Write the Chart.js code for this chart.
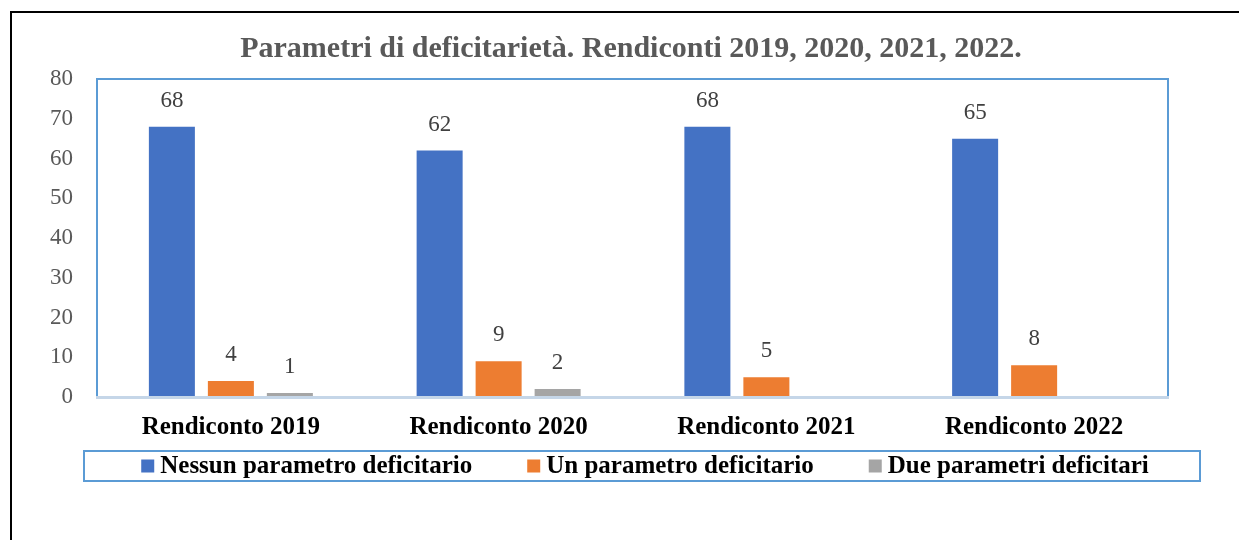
<!DOCTYPE html>
<html>
<head>
<meta charset="utf-8">
<script src="https://cdn.jsdelivr.net/npm/chart.js@4.4.1/dist/chart.umd.min.js"></script>
<style>
  html, body { margin: 0; padding: 0; background: #fff; }
  #wrap { width: 1239px; height: 540px; }
</style>
</head>
<body>
<div id="wrap"><canvas id="chart" width="1239" height="540"></canvas></div>
<script>
var titleText = "Parametri di deficitarietà. Rendiconti 2019, 2020, 2021, 2022.";
var categories = ["Rendiconto 2019", "Rendiconto 2020", "Rendiconto 2021", "Rendiconto 2022"];
var seriesNames = ["Nessun parametro deficitario", "Un parametro deficitario", "Due parametri deficitari"];
var nessun = [68, 62, 68, 65];
var unParam = [4, 9, 5, 8];
var dueParam = [1, 2, null, null];
var yTicks = [0, 10, 20, 30, 40, 50, 60, 70, 80];

var colors = ["#4472C4", "#ED7D31", "#A5A5A5"];
var serif = "'Liberation Serif', 'DejaVu Serif', serif";

// cornice esterna, titolo, riquadro area grafico
var framePlugin = {
    id: 'frame',
    beforeDraw: function (chart) {
        var ctx = chart.ctx;
        ctx.save();
        ctx.fillStyle = '#fff';
        ctx.fillRect(0, 0, chart.width, chart.height);
        ctx.strokeStyle = '#000';
        ctx.lineWidth = 2;
        ctx.beginPath();
        ctx.moveTo(11, 540);
        ctx.lineTo(11, 12);
        ctx.lineTo(1239, 12);
        ctx.stroke();

        ctx.fillStyle = '#595959';
        ctx.font = "bold 30px " + serif;
        ctx.textAlign = 'center';
        ctx.textBaseline = 'middle';
        ctx.fillText(titleText, 631, 49);
        ctx.restore();
    },
    afterDatasetsDraw: function (chart) {
        var ctx = chart.ctx;
        var a = chart.chartArea;
        ctx.save();
        ctx.strokeStyle = '#5B9BD5';
        ctx.lineWidth = 2;
        ctx.strokeRect(a.left, a.top, a.right - a.left, a.bottom - a.top);
        ctx.strokeStyle = '#C5D6E8';
        ctx.lineWidth = 3;
        ctx.beginPath();
        ctx.moveTo(a.left - 1, a.bottom + 0.5);
        ctx.lineTo(a.right + 1, a.bottom + 0.5);
        ctx.stroke();
        ctx.restore();
    }
};

// etichette dei valori sopra le barre
var valuesPlugin = {
    id: 'values',
    afterDatasetsDraw: function (chart) {
        var ctx = chart.ctx;
        ctx.save();
        ctx.fillStyle = '#404040';
        ctx.font = "23px " + serif;
        ctx.textAlign = 'center';
        ctx.textBaseline = 'middle';
        chart.data.datasets.forEach(function (ds, i) {
            var meta = chart.getDatasetMeta(i);
            meta.data.forEach(function (bar, j) {
                if (ds.data[j] === null) return;
                ctx.fillText(ds.data[j], bar.x, bar.y - 26);
            });
        });
        ctx.restore();
    }
};

// legenda in basso con riquadro
var legendPlugin = {
    id: 'boxLegend',
    afterDraw: function (chart) {
        var ctx = chart.ctx;
        ctx.save();
        ctx.strokeStyle = '#5B9BD5';
        ctx.lineWidth = 2;
        ctx.strokeRect(84, 451, 1116, 30);
        ctx.font = "bold 25px " + serif;
        ctx.textBaseline = 'middle';
        var box = 13, gapText = 6, gapItem = 55;
        var total = 0;
        chart.data.datasets.forEach(function (ds, i) {
            total += box + gapText + ctx.measureText(ds.label).width;
            if (i > 0) total += gapItem;
        });
        var x = 645 - total / 2;
        var y = 466;
        chart.data.datasets.forEach(function (ds) {
            ctx.fillStyle = ds.backgroundColor;
            ctx.fillRect(x, y - box / 2, box, box);
            x += box + gapText;
            ctx.fillStyle = '#000';
            ctx.fillText(ds.label, x, y + 1);
            x += ctx.measureText(ds.label).width + gapItem;
        });
        ctx.restore();
    }
};

var datasets = [nessun, unParam, dueParam].map(function (vals, i) {
    return {
        label: seriesNames[i],
        data: vals,
        backgroundColor: colors[i],
        borderWidth: 0,
        categoryPercentage: 0.661,
        barPercentage: 0.78
    };
});

new Chart(document.getElementById('chart').getContext('2d'), {
    type: 'bar',
    data: { labels: categories, datasets: datasets },
    options: {
        responsive: false,
        animation: false,
        events: [],
        layout: { padding: { left: 0, right: 71, top: 79, bottom: 83 } },
        plugins: {
            legend: { display: false },
            title: { display: false },
            tooltip: { enabled: false }
        },
        scales: {
            x: {
                grid: { display: false, drawTicks: false },
                border: { display: false },
                ticks: {
                    color: '#000',
                    font: { family: serif, size: 25, weight: 'bold' },
                    padding: 16
                },
                afterFit: function (scale) { scale.height = 60; }
            },
            y: {
                min: 0,
                max: 80,
                grid: { display: false, drawTicks: false },
                border: { display: false },
                afterBuildTicks: function (scale) {
                    scale.ticks = yTicks.map(function (v) { return { value: v }; });
                },
                ticks: {
                    color: '#595959',
                    font: { family: serif, size: 23 },
                    padding: 24
                },
                afterFit: function (scale) { scale.width = 97; }
            }
        }
    },
    plugins: [framePlugin, valuesPlugin, legendPlugin]
});
</script>
</body>
</html>
